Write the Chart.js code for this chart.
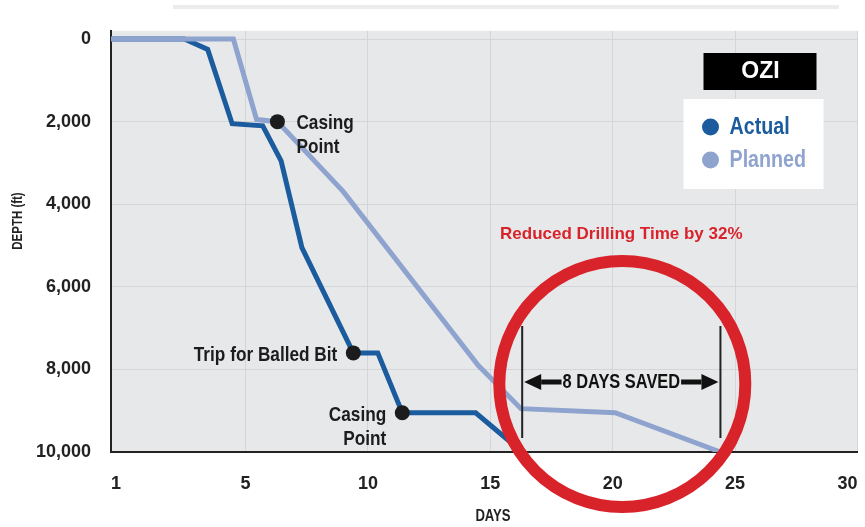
<!DOCTYPE html>
<html>
<head>
<meta charset="utf-8">
<title>Depth vs Days</title>
<script src="https://cdn.jsdelivr.net/npm/chart.js@4.4.1/dist/chart.umd.min.js"></script>
<style>
    html, body { margin: 0; padding: 0; background: #ffffff; }
    #wrap { width: 865px; height: 527px; }
</style>
</head>
<body>
<div id="wrap"><canvas id="depthChart" width="865" height="527"></canvas></div>
<script>
// Axis range: the "1" tick sits on the left edge of the plot
const X_MIN = -0.5;
const X_MAX = 30;
const DEPTH_TOP = -200;
const DEPTH_BOTTOM = 10000;

const dayLabels = ['1', '5', '10', '15', '20', '25', '30'];
const dayTickValues = [X_MIN, 5, 10, 15, 20, 25, 30];
const depthTicks = [0, 2000, 4000, 6000, 8000, 10000];

// Actual well
const actualDays = [X_MIN, 2.5, 3.45, 4.45, 5.7, 6.45, 7.3, 9.4, 10.4, 11.4, 14.4, 16.3];
const actualDepth = [0, 0, 250, 2050, 2100, 2950, 5050, 7600, 7600, 9050, 9050, 10000];

// Planned well
const plannedDays = [X_MIN, 4.5, 5.45, 6.3, 9.0, 14.5, 16.25, 20.1, 24.4];
const plannedDepth = [0, 0, 1950, 2000, 3700, 7900, 8950, 9050, 10000];

// Events along the way
const markerDays = [6.3, 9.4, 11.4];
const markerDepth = [2000, 7600, 9050];
const markerLabels = [['Casing', 'Point'], ['Trip for Balled Bit'], ['Casing', 'Point']];
const markerSide = ['right', 'left', 'left'];

const savingsNote = 'Reduced Drilling Time by 32%';
const badgeText = 'OZI';

const SANS = "'Liberation Sans', Arial, sans-serif";
const SQUEEZE = 0.82; // poor man's condensed face

const ACTUAL_COLOR = '#1b5c9e';
const PLANNED_COLOR = '#8fa3cf';
const RED = '#d8232b';
const INK = '#1c1c1c';

const toPoints = (xs, ys) => xs.map((d, i) => ({ x: d, y: ys[i] }));

// draw text squeezed horizontally around its anchor
function narrowText(ctx, text, x, y) {
    ctx.save();
    ctx.translate(x, y);
    ctx.scale(SQUEEZE, 1);
    ctx.fillText(text, 0, 0);
    ctx.restore();
}

function drawArrow(ctx, fromX, tipX, y) {
    const dir = Math.sign(tipX - fromX);
    const baseX = tipX - dir * 17;
    ctx.fillRect(Math.min(fromX, baseX), y - 2.5, Math.abs(baseX - fromX), 5);
    ctx.beginPath();
    ctx.moveTo(tipX, y);
    ctx.lineTo(baseX, y - 8);
    ctx.lineTo(baseX, y + 8);
    ctx.closePath();
    ctx.fill();
}

const backdrop = {
    id: 'backdrop',
    beforeDraw(chart) {
        const { ctx, chartArea: a } = chart;
        ctx.save();
        ctx.fillStyle = '#e7e8ea';
        ctx.fillRect(a.left, a.top, a.right - a.left, a.bottom - a.top);
        // faint rule above the plot
        ctx.fillStyle = '#ececec';
        ctx.fillRect(173, 5, 666, 4);
        ctx.restore();
    }
};

const notes = {
    id: 'notes',
    afterDraw(chart) {
        const { ctx, chartArea: a, scales: { x } } = chart;
        ctx.save();
        ctx.textBaseline = 'middle';

        // axis titles
        ctx.fillStyle = '#222';
        ctx.font = `bold 16px ${SANS}`;
        ctx.textAlign = 'center';
        narrowText(ctx, 'DAYS', 493, 517);
        ctx.save();
        ctx.translate(18, 221);
        ctx.rotate(-Math.PI / 2);
        ctx.font = `bold 14px ${SANS}`;
        narrowText(ctx, 'DEPTH (ft)', 0, 0);
        ctx.restore();

        // marker captions
        ctx.fillStyle = INK;
        ctx.font = `bold 21px ${SANS}`;
        chart.getDatasetMeta(2).data.forEach((p, i) => {
            const onRight = markerSide[i] === 'right';
            ctx.textAlign = onRight ? 'left' : 'right';
            const tx = onRight ? p.x + 19 : p.x - 16;
            markerLabels[i].forEach((line, j) => narrowText(ctx, line, tx, p.y + 2 + j * 24));
        });

        // days saved bracket between the two finish days
        const endActual = actualDays[actualDays.length - 1];
        const endPlanned = plannedDays[plannedDays.length - 1];
        const x0 = x.getPixelForValue(endActual);
        const x1 = x.getPixelForValue(endPlanned);
        const top = a.bottom - 126;
        const bottom = a.bottom - 14;
        const midY = (top + bottom) / 2;
        const midX = (x0 + x1) / 2;

        ctx.strokeStyle = '#222';
        ctx.lineWidth = 2;
        ctx.beginPath();
        ctx.moveTo(x0, top);
        ctx.lineTo(x0, bottom);
        ctx.moveTo(x1, top);
        ctx.lineTo(x1, bottom);
        ctx.stroke();

        const saved = Math.round(endPlanned - endActual);
        const label = `${saved} DAYS SAVED`;
        ctx.font = `bold 20px ${SANS}`;
        ctx.textAlign = 'center';
        ctx.fillStyle = '#111';
        narrowText(ctx, label, midX, midY);
        const w = ctx.measureText(label).width * SQUEEZE;
        drawArrow(ctx, midX - w / 2 - 1, x0 + 2, midY);
        drawArrow(ctx, midX + w / 2 + 1, x1 - 2, midY);

        // red ring and headline
        ctx.strokeStyle = RED;
        ctx.lineWidth = 12;
        ctx.beginPath();
        ctx.arc(midX + 1, midY + 2, 123, 0, Math.PI * 2);
        ctx.stroke();

        ctx.fillStyle = RED;
        ctx.font = `bold 17px ${SANS}`;
        ctx.fillText(savingsNote, midX, midY - 148);

        // badge
        const bx = a.right - 154;
        ctx.fillStyle = '#000';
        ctx.fillRect(bx, 53, 113, 37);
        ctx.fillStyle = '#fff';
        ctx.font = `bold 23px ${SANS}`;
        ctx.fillText(badgeText, bx + 57, 72);

        // legend box
        const lx = a.right - 174;
        ctx.fillStyle = '#fff';
        ctx.fillRect(lx, 99, 140, 90);
        ctx.textAlign = 'left';
        ctx.font = `bold 24px ${SANS}`;
        [0, 1].forEach((k, i) => {
            const ds = chart.data.datasets[k];
            const ly = 127 + i * 33;
            ctx.fillStyle = ds.borderColor;
            ctx.beginPath();
            ctx.arc(lx + 27, ly, 8.5, 0, Math.PI * 2);
            ctx.fill();
            narrowText(ctx, ds.label, lx + 46, ly);
        });

        ctx.restore();
    }
};

document.addEventListener('DOMContentLoaded', () => {
    const ctx = document.getElementById('depthChart');
    const tickFont = { family: SANS, size: 18, weight: 'bold' };

    new Chart(ctx, {
        type: 'line',
        data: {
            datasets: [
                {
                    label: 'Actual',
                    data: toPoints(actualDays, actualDepth),
                    borderColor: ACTUAL_COLOR,
                    borderWidth: 5,
                    pointRadius: 0,
                    tension: 0,
                    order: 2
                },
                {
                    label: 'Planned',
                    data: toPoints(plannedDays, plannedDepth),
                    borderColor: PLANNED_COLOR,
                    borderWidth: 5,
                    pointRadius: 0,
                    tension: 0,
                    order: 1
                },
                {
                    label: 'Events',
                    data: toPoints(markerDays, markerDepth),
                    showLine: false,
                    pointRadius: 7.5,
                    pointBackgroundColor: INK,
                    pointBorderWidth: 0,
                    order: 0
                }
            ]
        },
        options: {
            responsive: false,
            animation: false,
            layout: { padding: { top: 30, right: -2, left: 0, bottom: 0 } },
            plugins: {
                legend: { display: false },
                tooltip: { enabled: false }
            },
            scales: {
                x: {
                    type: 'linear',
                    min: X_MIN,
                    max: X_MAX,
                    afterBuildTicks: (axis) => {
                        axis.ticks = dayTickValues.map(v => ({ value: v }));
                    },
                    afterFit: (axis) => {
                        axis.height = 75;
                        axis.paddingLeft = 0;
                        axis.paddingRight = 0;
                    },
                    ticks: {
                        align: 'inner',
                        padding: 21,
                        color: '#222',
                        font: tickFont,
                        callback: (value, index) => dayLabels[index]
                    },
                    grid: { color: '#d4d5d8', drawTicks: false },
                    border: { color: '#222', width: 2 }
                },
                y: {
                    type: 'linear',
                    reverse: true,
                    min: DEPTH_TOP,
                    max: DEPTH_BOTTOM,
                    afterBuildTicks: (axis) => {
                        axis.ticks = depthTicks.map(v => ({ value: v }));
                    },
                    afterFit: (axis) => { axis.width = 111; },
                    ticks: {
                        padding: 20,
                        color: '#222',
                        font: tickFont,
                        callback: (value) => value.toLocaleString('en-US')
                    },
                    grid: { color: '#d4d5d8', drawTicks: false },
                    border: { color: '#222', width: 2 }
                }
            }
        },
        plugins: [backdrop, notes]
    });
});
</script>
</body>
</html>
